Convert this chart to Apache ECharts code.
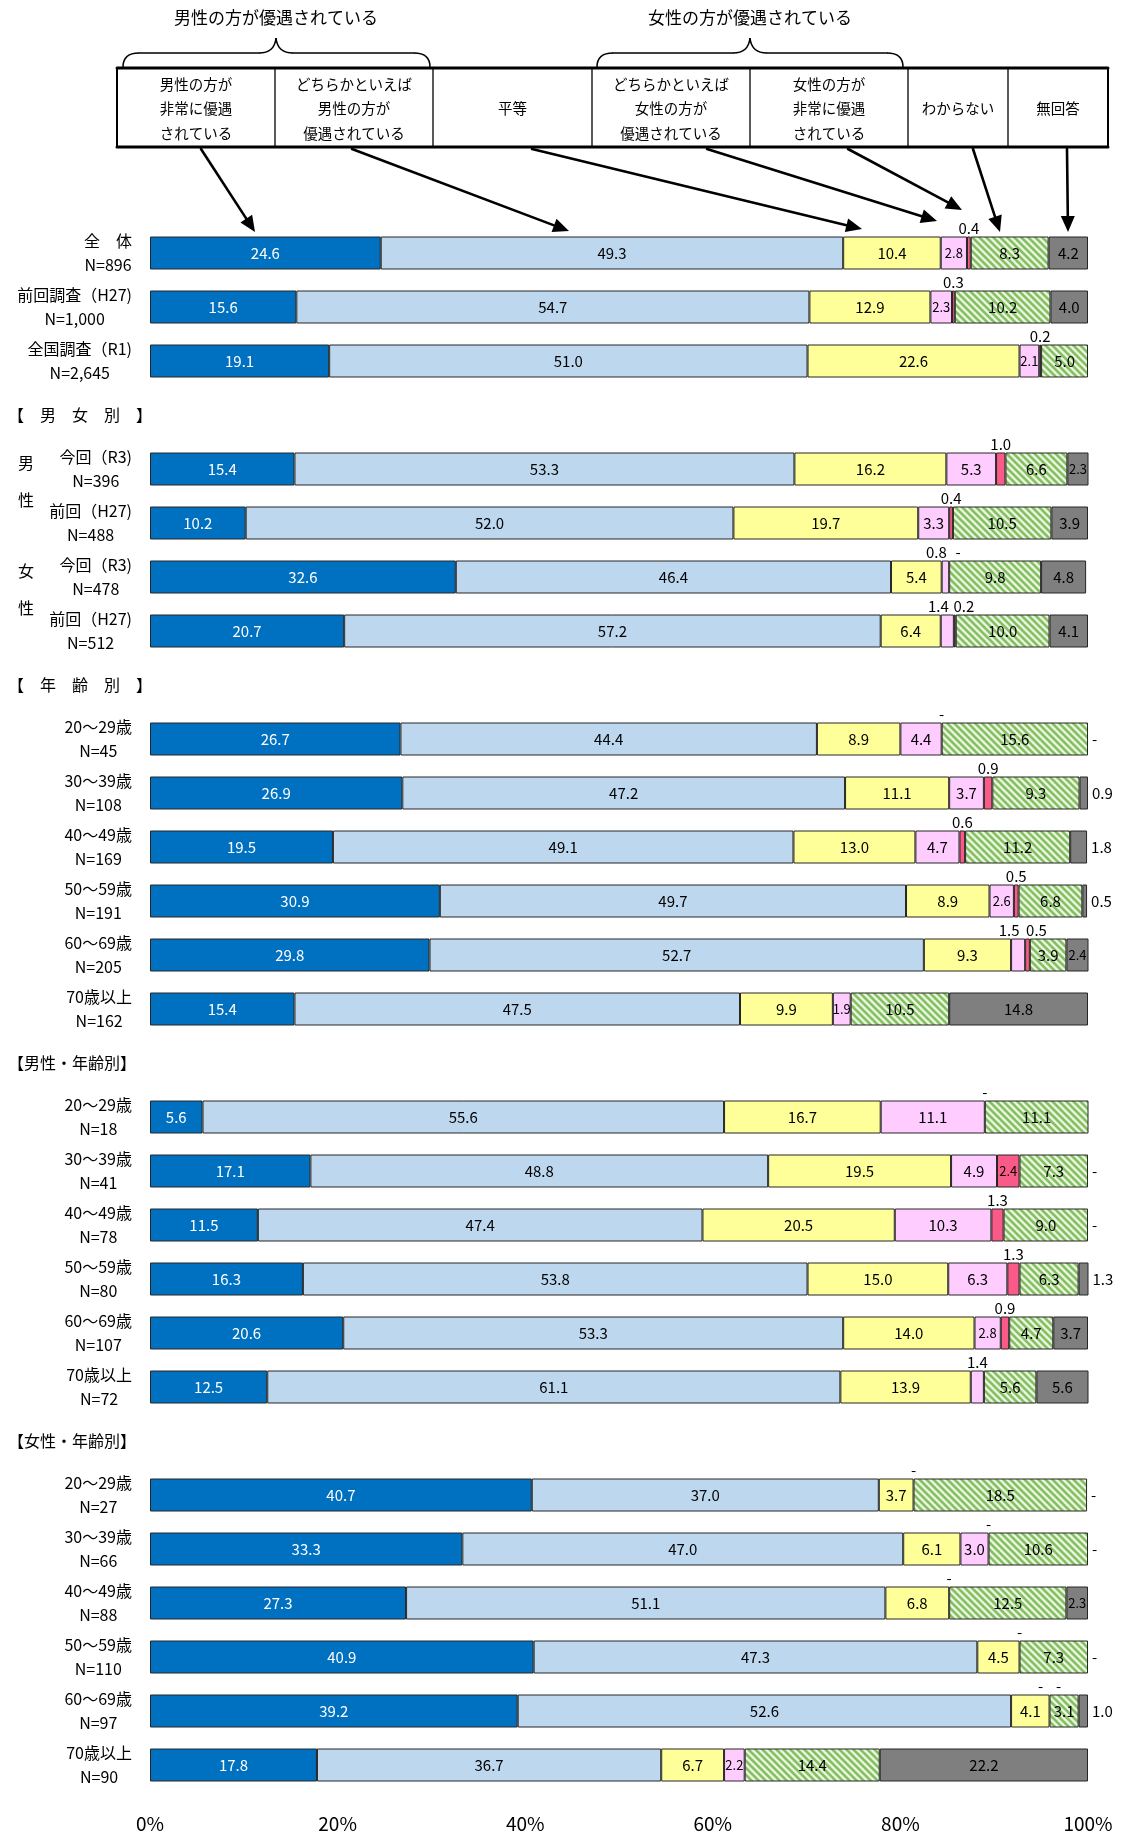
<!DOCTYPE html>
<html>
<head>
<meta charset="utf-8">
<script src="https://cdn.jsdelivr.net/npm/echarts@6/dist/echarts.min.js"></script>
<style>
  html, body { margin: 0; padding: 0; background: #fff; }
  #main { width: 1126px; height: 1836px; }
</style>
</head>
<body>
<div id="main"></div>
<script>
// 行（区切り見出しは【】）
const categories = [
  '全　体\nN=896', '前回調査（H27)\nN=1,000', '全国調査（R1)\nN=2,645',
  '【　男　女　別　】',
  '今回（R3)\nN=396', '前回（H27)\nN=488', '今回（R3)\nN=478', '前回（H27)\nN=512',
  '【　年　齢　別　】',
  '20〜29歳\nN=45', '30〜39歳\nN=108', '40〜49歳\nN=169', '50〜59歳\nN=191', '60〜69歳\nN=205', '70歳以上\nN=162',
  '【男性・年齢別】',
  '20〜29歳\nN=18', '30〜39歳\nN=41', '40〜49歳\nN=78', '50〜59歳\nN=80', '60〜69歳\nN=107', '70歳以上\nN=72',
  '【女性・年齢別】',
  '20〜29歳\nN=27', '30〜39歳\nN=66', '40〜49歳\nN=88', '50〜59歳\nN=110', '60〜69歳\nN=97', '70歳以上\nN=90'
];

const seriesNames = [
  '男性の方が非常に優遇されている', 'どちらかといえば男性の方が優遇されている', '平等',
  'どちらかといえば女性の方が優遇されている', '女性の方が非常に優遇されている', 'わからない', '無回答'
];
const legendLines = [
  '男性の方が\n非常に優遇\nされている',
  'どちらかといえば\n男性の方が\n優遇されている',
  '平等',
  'どちらかといえば\n女性の方が\n優遇されている',
  '女性の方が\n非常に優遇\nされている',
  'わからない',
  '無回答'
];
const groupTitles = ['男性の方が優遇されている', '女性の方が優遇されている'];
const sideLabels = ['男', '性', '女', '性'];

// 0 は「-」、null は表示なし
const vS1 = [24.6, 15.6, 19.1, null, 15.4, 10.2, 32.6, 20.7, null, 26.7, 26.9, 19.5, 30.9, 29.8, 15.4, null, 5.6, 17.1, 11.5, 16.3, 20.6, 12.5, null, 40.7, 33.3, 27.3, 40.9, 39.2, 17.8];
const vS2 = [49.3, 54.7, 51.0, null, 53.3, 52.0, 46.4, 57.2, null, 44.4, 47.2, 49.1, 49.7, 52.7, 47.5, null, 55.6, 48.8, 47.4, 53.8, 53.3, 61.1, null, 37.0, 47.0, 51.1, 47.3, 52.6, 36.7];
const vS3 = [10.4, 12.9, 22.6, null, 16.2, 19.7, 5.4, 6.4, null, 8.9, 11.1, 13.0, 8.9, 9.3, 9.9, null, 16.7, 19.5, 20.5, 15.0, 14.0, 13.9, null, 3.7, 6.1, 6.8, 4.5, 4.1, 6.7];
const vS4 = [2.8, 2.3, 2.1, null, 5.3, 3.3, 0.8, 1.4, null, 4.4, 3.7, 4.7, 2.6, 1.5, 1.9, null, 11.1, 4.9, 10.3, 6.3, 2.8, 1.4, null, 0, 3.0, 0, 0, 0, 2.2];
const vS5 = [0.4, 0.3, 0.2, null, 1.0, 0.4, 0, 0.2, null, 0, 0.9, 0.6, 0.5, 0.5, null, null, 0, 2.4, 1.3, 1.3, 0.9, null, null, null, 0, null, null, 0, null];
const vS6 = [8.3, 10.2, 5.0, null, 6.6, 10.5, 9.8, 10.0, null, 15.6, 9.3, 11.2, 6.8, 3.9, 10.5, null, 11.1, 7.3, 9.0, 6.3, 4.7, 5.6, null, 18.5, 10.6, 12.5, 7.3, 3.1, 14.4];
const vS7 = [4.2, 4.0, null, null, 2.3, 3.9, 4.8, 4.1, null, 0, 0.9, 1.8, 0.5, 2.4, 14.8, null, 0, 0, 0, 1.3, 3.7, 5.6, null, 0, 0, 2.3, 0, 1.0, 22.2];
const allValues = [vS1, vS2, vS3, vS4, vS5, vS6, vS7];

const xTicks = [0, 20, 40, 60, 80, 100];

const FONT = '"Noto Sans CJK JP", "Noto Sans", sans-serif';

// わからない の斜線パターン
function hatch() {
  const s = 7;
  const c = document.createElement('canvas');
  c.width = s; c.height = s;
  const g = c.getContext('2d');
  g.fillStyle = '#d9edcb';
  g.fillRect(0, 0, s, s);
  g.lineCap = 'square';
  [-s, 0, s].forEach(k => {
    g.strokeStyle = '#86bf60'; g.lineWidth = 2.4;
    g.beginPath(); g.moveTo(k - 2, -2); g.lineTo(k + s + 2, s + 2); g.stroke();
  });
  [-s / 2, s / 2].forEach(k => {
    g.strokeStyle = '#ffffff'; g.lineWidth = 1;
    g.beginPath(); g.moveTo(k - 2, -2); g.lineTo(k + s + 2, s + 2); g.stroke();
  });
  return { image: c, repeat: 'repeat' };
}

const colors = ['#0070C0', '#BDD7EE', '#FFFF99', '#FFCCFF', '#FA5A87', hatch(), '#7F7F7F'];

function isAbove(si, v) {
  if (v === null) return false;
  return (si === 3 && v < 1.7) || (si === 4 && v < 2);
}

function makeData(vals, si) {
  return vals.map((v, r) => {
    if (v === null) return '-';
    const lab = {
      show: true,
      formatter: v === 0 ? '-' : v.toFixed(1),
      color: si === 0 ? '#fff' : '#000',
      fontSize: v < 3 ? 13 : 15,
      fontFamily: FONT,
      textBorderWidth: 0,
      position: 'inside'
    };
    if (isAbove(si, v)) {
      lab.position = 'top';
      lab.distance = 1;
      lab.fontSize = 15;
      const otherAbove = si === 3 ? isAbove(4, vS5[r]) : isAbove(3, vS4[r]);
      if (otherAbove) lab.offset = [si === 3 ? -9 : 9, 0];
    }
    if (si === 6 && v < 2) {
      lab.position = 'right';
      lab.distance = 4;
      lab.fontSize = 15;
    }
    const item = { value: v, label: lab };
    if (v === 0) item.itemStyle = { borderWidth: 0 };
    return item;
  });
}

// 凡例表と矢印
const colX = [117, 275, 433, 592, 750, 908, 1008, 1108];
const boxTop = 68, boxBottom = 147;
const arrows = [
  [201, 149, 255, 232], [352, 149, 569, 231], [532, 149, 862, 229], [707, 149, 937, 221],
  [848, 149, 962, 210], [973, 149, 1000, 232], [1067, 149, 1068, 232]
];

function headerGraphics() {
  const els = [];
  let n = 0;
  const id = () => 'h' + (n++);
  const line = (x1, y1, x2, y2, w) => els.push({ id: id(), type: 'line', shape: { x1, y1, x2, y2 }, style: { stroke: '#000', lineWidth: w, lineCap: 'round' }, silent: true });
  const curve = (x1, y1, cpx1, cpy1, cpx2, cpy2, x2, y2) => els.push({
    id: id(), type: 'bezierCurve', shape: { x1, y1, x2, y2, cpx1, cpy1, cpx2, cpy2 },
    style: { stroke: '#000', lineWidth: 1.5, fill: null }, silent: true
  });
  line(colX[0], boxTop, colX[7], boxTop, 3);
  line(colX[0], boxBottom, colX[7], boxBottom, 3);
  colX.forEach((x, i) => line(x, boxTop, x, boxBottom, (i === 0 || i === 7) ? 2 : 1.3));
  legendLines.forEach((t, i) => {
    els.push({
      id: id(), type: 'text', x: (colX[i] + colX[i + 1]) / 2, y: (boxTop + boxBottom) / 2 + 1,
      style: { text: t, fill: '#000', fontSize: 14.5, fontFamily: FONT, lineHeight: 24.5,
        align: 'center', verticalAlign: 'middle', textAlign: 'center', textVerticalAlign: 'middle' },
      silent: true
    });
  });
  // 中括弧
  const braces = [[123, 276, 430], [597, 750, 903]];
  braces.forEach(([l, m, r], i) => {
    curve(l, 67, l, 58, l + 5, 53, l + 16, 53);
    line(l + 16, 53, m - 17, 53, 1.5);
    curve(m - 17, 53, m - 6, 53, m - 1, 48, m, 38);
    curve(m, 38, m + 1, 48, m + 6, 53, m + 17, 53);
    line(m + 17, 53, r - 16, 53, 1.5);
    curve(r - 16, 53, r - 5, 53, r, 58, r, 67);
    els.push({
      id: id(), type: 'text', x: m, y: 18,
      style: { text: groupTitles[i], fill: '#000', fontSize: 17, fontFamily: FONT,
        align: 'center', verticalAlign: 'middle', textAlign: 'center', textVerticalAlign: 'middle' },
      silent: true
    });
  });
  arrows.forEach(([x1, y1, x2, y2]) => {
    const len = Math.hypot(x2 - x1, y2 - y1);
    const ux = (x2 - x1) / len, uy = (y2 - y1) / len;
    const L = 16, W = 7;
    const bx = x2 - ux * L, by = y2 - uy * L;
    line(x1, y1, bx, by, 2.6);
    els.push({
      id: id(), type: 'polygon',
      shape: { points: [[x2, y2], [bx - uy * W, by + ux * W], [bx + uy * W, by - ux * W]] },
      style: { fill: '#000' }, silent: true
    });
  });
  return els;
}

const chart = echarts.init(document.getElementById('main'), null, { renderer: 'canvas' });

const option = {
  animation: false,
  backgroundColor: '#fff',
  textStyle: { fontFamily: FONT },
  grid: { left: 150, right: 38, top: 226, bottom: 44, containLabel: false },
  xAxis: {
    type: 'value', min: xTicks[0], max: xTicks[xTicks.length - 1], interval: xTicks[1] - xTicks[0],
    axisLine: { show: false }, axisTick: { show: false }, splitLine: { show: false },
    axisLabel: { formatter: '{value}%', fontSize: 19, color: '#000', margin: 22, fontFamily: FONT }
  },
  yAxis: {
    type: 'category', data: categories, inverse: true,
    axisLine: { show: false }, axisTick: { show: false }, splitLine: { show: false },
    axisLabel: {
      interval: 0, margin: 18, color: '#000',
      formatter: v => v.startsWith('【') ? '' : v.split('\n').map(s => '{c|' + s + '}').join('\n'),
      rich: { c: { align: 'center', fontSize: 16, lineHeight: 24, color: '#000', fontFamily: FONT } }
    }
  },
  series: allValues.map((vals, si) => ({
    name: seriesNames[si],
    type: 'bar',
    stack: 'total',
    barWidth: 33,
    itemStyle: { color: colors[si], borderColor: '#262626', borderWidth: 1 },
    emphasis: { disabled: true },
    data: makeData(vals, si)
  })),
  graphic: { elements: headerGraphics() }
};

chart.setOption(option);

// 区切り見出しと男女の縦ラベル
const extra = [];
categories.forEach((c, i) => {
  if (c.startsWith('【')) {
    const y = chart.convertToPixel({ yAxisIndex: 0 }, c);
    extra.push({
      id: 'sec' + i, type: 'text', x: 8, y: y,
      style: { text: c, fill: '#000', fontSize: 16, fontFamily: FONT,
        align: 'left', verticalAlign: 'middle', textAlign: 'left', textVerticalAlign: 'middle' },
      silent: true
    });
  }
});
[4, 6].forEach((ri, k) => {
  const y = chart.convertToPixel({ yAxisIndex: 0 }, categories[ri]);
  [[sideLabels[k * 2], y - 6], [sideLabels[k * 2 + 1], y + 31]].forEach(([t, yy], j) => {
    extra.push({
      id: 'side' + k + '_' + j, type: 'text', x: 26, y: yy,
      style: { text: t, fill: '#000', fontSize: 16, fontFamily: FONT,
        align: 'center', verticalAlign: 'middle', textAlign: 'center', textVerticalAlign: 'middle' },
      silent: true
    });
  });
});
chart.setOption({ graphic: { elements: extra } });
</script>
</body>
</html>
